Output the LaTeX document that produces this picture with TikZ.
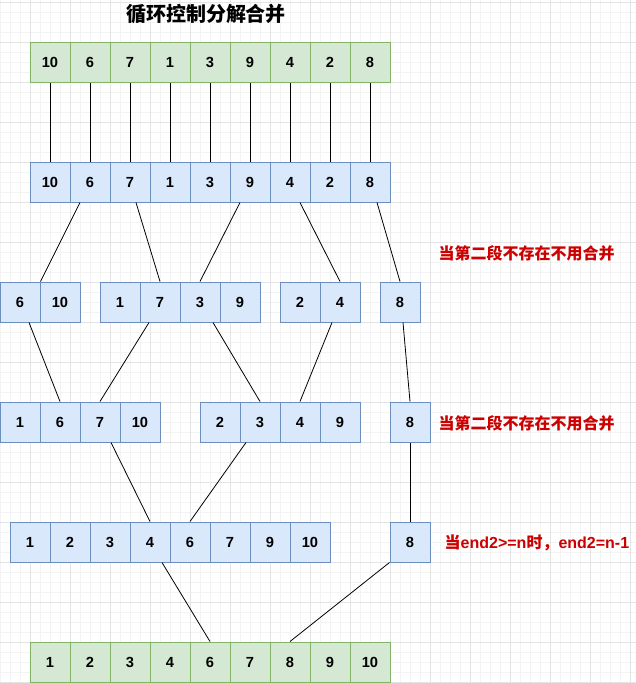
\documentclass[tikz,border=0pt]{standalone}
\usepackage{fontspec}
\setmainfont{Liberation Sans}
\newfontfamily\cjk{Noto Sans CJK SC}
\usepackage{xcolor}
\usepackage{tikz}
\definecolor{greenfill}{HTML}{D5E8D4}
\definecolor{greenline}{HTML}{82B366}
\definecolor{bluefill}{HTML}{DAE8FC}
\definecolor{blueline}{HTML}{6C8EBF}
\definecolor{notered}{HTML}{CC0000}
\definecolor{minorgrid}{HTML}{F3F3F3}
\definecolor{majorgrid}{HTML}{E4E4E4}

\begin{document}
\begin{tikzpicture}[x=0.75pt, y=-0.75pt]
        \tikzstyle{cell} = [rectangle, minimum width=30pt, minimum height=30pt, inner sep=0pt, text centered, line width=0.75pt, font=\bfseries\fontsize{11}{13}\selectfont]
        \tikzstyle{init} = [cell, draw=greenline, fill=greenfill]
        \tikzstyle{part} = [cell, draw=blueline, fill=bluefill]
        \tikzstyle{note} = [anchor=west, text=notered, font=\bfseries\fontsize{12}{14}\selectfont]
        \tikzstyle{link} = [line width=0.6pt, black]

        \useasboundingbox (0,0) rectangle (636,683);

        % background grid
        \foreach \x in {0,10,...,630} \draw[minorgrid, line width=0.5pt] (\x,0) -- (\x,683);
        \foreach \y in {2,12,...,682} \draw[minorgrid, line width=0.5pt] (0,\y) -- (636,\y);
        \foreach \x in {30,70,...,630} \draw[majorgrid, line width=0.5pt] (\x,0) -- (\x,683);
        \foreach \y in {2,42,...,682} \draw[majorgrid, line width=0.5pt] (0,\y) -- (636,\y);

        \node (title) at (206,14) {\cjk\bfseries\fontsize{15}{17}\selectfont 循环控制分解合并};

        % rows of cells
        \foreach \v [count=\i] in {10,6,7,1,3,9,4,2,8}
            \node (a\i) [init] at (10+40*\i,62) {\v};
        \foreach \v [count=\i] in {10,6,7,1,3,9,4,2,8}
            \node (b\i) [part] at (10+40*\i,182) {\v};
        \foreach \v/\x [count=\i] in {6/20,10/60,1/120,7/160,3/200,9/240,2/300,4/340,8/400}
            \node (c\i) [part] at (\x,302) {\v};
        \foreach \v/\x [count=\i] in {1/20,6/60,7/100,10/140,2/220,3/260,4/300,9/340,8/410}
            \node (d\i) [part] at (\x,422) {\v};
        \foreach \v/\x [count=\i] in {1/30,2/70,3/110,4/150,6/190,7/230,9/270,10/310,8/410}
            \node (e\i) [part] at (\x,542) {\v};
        \foreach \v [count=\i] in {1,2,3,4,6,7,8,9,10}
            \node (f\i) [init] at (10+40*\i,662) {\v};

        % notes
        \node (note1) [note] at (434,253) {\cjk 当第二段不存在不用合并};
        \node (note2) [note] at (434,423) {\cjk 当第二段不存在不用合并};
        \node (note3) [note] at (440,543) {{\cjk 当}end2>=n{\cjk 时，}end2=n-1};

        % split and merge links
        \foreach \i in {1,...,9}
            \draw [link] (a\i) -- (b\i);

        \draw [link] ([xshift=-7.5pt]b2.south) -- (c1.north east);
        \draw [link] ([xshift=4.5pt]b3.south) -- (c4.north);
        \draw [link] ([xshift=-7.5pt]b6.south) -- (c5.north);
        \draw [link] ([xshift=7.5pt]b7.south) -- (c8.north);
        \draw [link] ([xshift=5.25pt]b9.south) -- (c9.north);

        \draw [link] ([xshift=6.75pt]c1.south) -- (d2.north);
        \draw [link] ([xshift=-8.25pt]c4.south) -- (d3.north);
        \draw [link] ([xshift=9.75pt]c5.south) -- (d6.north);
        \draw [link] ([xshift=-6pt]c8.south) -- (d7.north);
        \draw [link] ([xshift=2.25pt]c9.south) -- (d9.north);

        \draw [link] ([xshift=8.25pt]d3.south) -- (e4.north);
        \draw [link] ([xshift=-10.5pt]d6.south) -- (e5.north);
        \draw [link] (d9.south) -- (e9.north);

        \draw [link] ([xshift=9pt]e4.south) -- (f5.north);
        \draw [link] (e9.south west) -- (f7.north);
\end{tikzpicture}
\end{document}
